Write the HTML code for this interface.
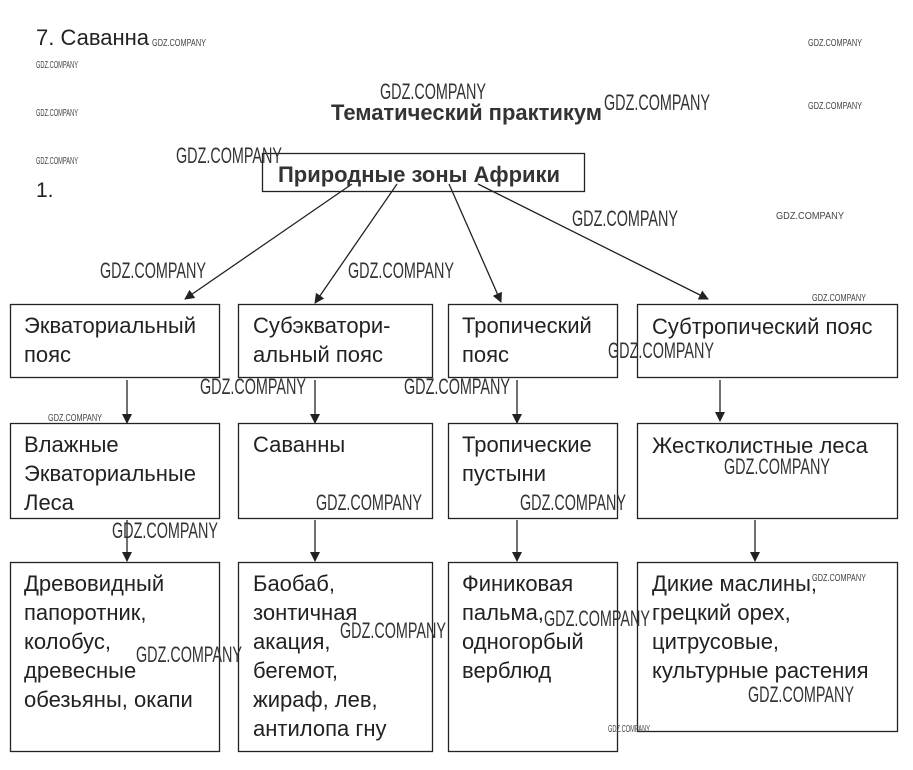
<!DOCTYPE html>
<html><head><meta charset="utf-8"><style>
body{margin:0;background:#fff;}
svg{display:block;font-family:"Liberation Sans","DejaVu Sans",sans-serif;}
.t{font-size:22px;fill:#222;}
.w{font-size:22px;fill:#333;}
.ws{font-size:10px;fill:#444;}
</style></head><body>
<svg width="913" height="770" viewBox="0 0 913 770">
<defs><marker id="a" markerWidth="10" markerHeight="10" refX="9" refY="5" orient="auto" markerUnits="userSpaceOnUse"><path d="M0,0 L10,5 L0,10 z" fill="#222"/></marker></defs>
<g fill="none" stroke="#222" stroke-width="1.3">
<rect x="262.5" y="153.5" width="322" height="38"/>
<rect x="10.5" y="304.5" width="209" height="73"/>
<rect x="238.5" y="304.5" width="194" height="73"/>
<rect x="448.5" y="304.5" width="169" height="73"/>
<rect x="637.5" y="304.5" width="260" height="73"/>
<rect x="10.5" y="423.5" width="209" height="95"/>
<rect x="238.5" y="423.5" width="194" height="95"/>
<rect x="448.5" y="423.5" width="169" height="95"/>
<rect x="637.5" y="423.5" width="260" height="95"/>
<rect x="10.5" y="562.5" width="209" height="189"/>
<rect x="238.5" y="562.5" width="194" height="189"/>
<rect x="448.5" y="562.5" width="169" height="189"/>
<rect x="637.5" y="562.5" width="260" height="169"/>
</g>
<g stroke="#222" stroke-width="1.3" marker-end="url(#a)">
<line x1="352" y1="184" x2="185" y2="299"/>
<line x1="397" y1="184" x2="315" y2="303"/>
<line x1="449" y1="184" x2="501" y2="302"/>
<line x1="478" y1="184" x2="708" y2="299"/>
<line x1="127" y1="380" x2="127" y2="423"/>
<line x1="315" y1="380" x2="315" y2="423"/>
<line x1="517" y1="380" x2="517" y2="423"/>
<line x1="720" y1="380" x2="720" y2="421"/>
<line x1="127" y1="520" x2="127" y2="561"/>
<line x1="315" y1="520" x2="315" y2="561"/>
<line x1="517" y1="520" x2="517" y2="561"/>
<line x1="755" y1="520" x2="755" y2="561"/>
</g>
<text x="36" y="45" font-size="22" fill="#222">7. Саванна</text>
<text x="36" y="197" font-size="21" fill="#222">1.</text>
<text x="331" y="120" font-size="22" font-weight="bold" fill="#333" textLength="271" lengthAdjust="spacingAndGlyphs">Тематический практикум</text>
<text x="278" y="182" font-size="22" font-weight="bold" fill="#333" textLength="282" lengthAdjust="spacingAndGlyphs">Природные зоны Африки</text>
<g class="t">
<text x="24" y="333">Экваториальный</text><text x="24" y="362">пояс</text>
<text x="253" y="333">Субэкватори-</text><text x="253" y="362">альный пояс</text>
<text x="462" y="333">Тропический</text><text x="462" y="362">пояс</text>
<text x="652" y="334">Субтропический пояс</text>
<text x="24" y="452">Влажные</text><text x="24" y="481">Экваториальные</text><text x="24" y="510">Леса</text>
<text x="253" y="452">Саванны</text>
<text x="462" y="452">Тропические</text><text x="462" y="481">пустыни</text>
<text x="652" y="453">Жестколистные леса</text>
<text x="24" y="591">Древовидный</text><text x="24" y="620">папоротник,</text><text x="24" y="649">колобус,</text><text x="24" y="678">древесные</text><text x="24" y="707">обезьяны, окапи</text>
<text x="253" y="591">Баобаб,</text><text x="253" y="620">зонтичная</text><text x="253" y="649">акация,</text><text x="253" y="678">бегемот,</text><text x="253" y="707">жираф, лев,</text><text x="253" y="736">антилопа гну</text>
<text x="462" y="591">Финиковая</text><text x="462" y="620">пальма,</text><text x="462" y="649">одногорбый</text><text x="462" y="678">верблюд</text>
<text x="652" y="591">Дикие маслины,</text><text x="652" y="620">грецкий орех,</text><text x="652" y="649">цитрусовые,</text><text x="652" y="678">культурные растения</text>
</g>
<g class="w">
<text x="380" y="99" textLength="106" lengthAdjust="spacingAndGlyphs">GDZ.COMPANY</text>
<text x="604" y="110" textLength="106" lengthAdjust="spacingAndGlyphs">GDZ.COMPANY</text>
<text x="176" y="163" textLength="106" lengthAdjust="spacingAndGlyphs">GDZ.COMPANY</text>
<text x="572" y="226" textLength="106" lengthAdjust="spacingAndGlyphs">GDZ.COMPANY</text>
<text x="100" y="278" textLength="106" lengthAdjust="spacingAndGlyphs">GDZ.COMPANY</text>
<text x="348" y="278" textLength="106" lengthAdjust="spacingAndGlyphs">GDZ.COMPANY</text>
<text x="608" y="358" textLength="106" lengthAdjust="spacingAndGlyphs">GDZ.COMPANY</text>
<text x="200" y="394" textLength="106" lengthAdjust="spacingAndGlyphs">GDZ.COMPANY</text>
<text x="404" y="394" textLength="106" lengthAdjust="spacingAndGlyphs">GDZ.COMPANY</text>
<text x="724" y="474" textLength="106" lengthAdjust="spacingAndGlyphs">GDZ.COMPANY</text>
<text x="316" y="510" textLength="106" lengthAdjust="spacingAndGlyphs">GDZ.COMPANY</text>
<text x="520" y="510" textLength="106" lengthAdjust="spacingAndGlyphs">GDZ.COMPANY</text>
<text x="112" y="538" textLength="106" lengthAdjust="spacingAndGlyphs">GDZ.COMPANY</text>
<text x="544" y="626" textLength="106" lengthAdjust="spacingAndGlyphs">GDZ.COMPANY</text>
<text x="340" y="638" textLength="106" lengthAdjust="spacingAndGlyphs">GDZ.COMPANY</text>
<text x="136" y="662" textLength="106" lengthAdjust="spacingAndGlyphs">GDZ.COMPANY</text>
<text x="748" y="702" textLength="106" lengthAdjust="spacingAndGlyphs">GDZ.COMPANY</text>
</g>
<g class="ws">
<text x="152" y="46" textLength="54" lengthAdjust="spacingAndGlyphs">GDZ.COMPANY</text>
<text x="36" y="68" textLength="42" lengthAdjust="spacingAndGlyphs">GDZ.COMPANY</text>
<text x="36" y="116" textLength="42" lengthAdjust="spacingAndGlyphs">GDZ.COMPANY</text>
<text x="36" y="164" textLength="42" lengthAdjust="spacingAndGlyphs">GDZ.COMPANY</text>
<text x="808" y="46" textLength="54" lengthAdjust="spacingAndGlyphs">GDZ.COMPANY</text>
<text x="808" y="109" textLength="54" lengthAdjust="spacingAndGlyphs">GDZ.COMPANY</text>
<text x="776" y="219" textLength="68" lengthAdjust="spacingAndGlyphs">GDZ.COMPANY</text>
<text x="812" y="301" textLength="54" lengthAdjust="spacingAndGlyphs">GDZ.COMPANY</text>
<text x="48" y="421" textLength="54" lengthAdjust="spacingAndGlyphs">GDZ.COMPANY</text>
<text x="812" y="581" textLength="54" lengthAdjust="spacingAndGlyphs">GDZ.COMPANY</text>
<text x="608" y="732" textLength="42" lengthAdjust="spacingAndGlyphs">GDZ.COMPANY</text>
</g>
</svg>
</body></html>
